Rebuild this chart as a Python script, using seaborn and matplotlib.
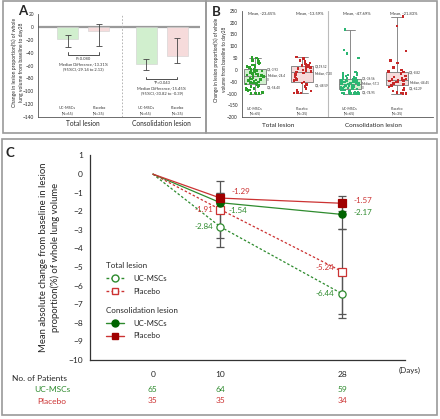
import numpy as np
import pandas as pd
import matplotlib
matplotlib.use("Agg")
import matplotlib.pyplot as plt
from matplotlib.patches import Rectangle
from matplotlib.lines import Line2D
import seaborn as sns

sns.set_style("white")
plt.rcParams['font.family'] = ['Lato', 'DejaVu Sans']

W, H = 440, 419

# ---------------- data ----------------
lesions = ["Total lesion", "Consolidation lesion"]
groups = ["UC-MSCs", "Placebo"]
group_n = ["(N=65)", "(N=35)"]

# panel A: median change with 95% CI
a_median_uc = [-19, -57]
a_median_pl = [-7, -45]
a_lo_uc = [-31.5, -67]
a_hi_uc = [-12, -50]
a_lo_pl = [-30, -56]
a_hi_pl = [5, -17]
a_pvals = ["P=0.080", "*P=0.043"]
a_diff = ["Median Difference,-13.31%", "Median Difference,-15.45%"]
a_ci = ["(95%CI,-29.14 to 2.13)", "(95%CI,-30.82 to -0.39)"]

# panel B: individual patients
b_uc_total = [-100, -100, -100, -98, -95, -92, -88, -85, -82, -80, -78, -75, -72,
              -70, -66, -62, -60, -58, -55, -54, -52, -50, -47, -45, -42, -40, -38,
              -35, -33, -30, -28, -26, -25, -24, -23, -21, -19, -17, -15, -13, -12,
              -10, -8, -6, -5, -4, -3, -1, 2, 5, 8, 10, 12, 15, 18, 20, 24, 28, 32,
              35, 40, 45, 48, 50, 52]
b_pl_total = [-97, -97, -95, -90, -85, -78, -70, -62, -55, -50, -48, -45, -40, -35,
              -28, -20, -12, -8, -7, -3, 0, 3, 6, 10, 12, 15, 18, 20, 22, 25, 30, 35,
              40, 48, 55]
b_uc_cons = [-100, -100, -100, -100, -100, -100, -98, -96, -95, -93, -90, -88, -86,
             -84, -82, -80, -78, -76, -75, -74, -72, -70, -68, -66, -65, -63, -62,
             -60, -59, -58, -57, -56, -55, -54, -52, -50, -49, -48, -46, -45, -44,
             -42, -40, -38, -37, -36, -35, -33, -30, -28, -25, -22, -20, -15, -12,
             -8, 50, 70, 85, 170]
b_pl_cons = [-100, -100, -98, -95, -90, -85, -78, -72, -65, -62, -60, -58, -55, -52,
             -50, -48, -45, -44, -42, -40, -38, -35, -30, -25, -15, -10, -8, -5, 0,
             10, 30, 40, 80, 185, 225]
b_means = ["Mean, -23.45%", "Mean, -13.59%", "Mean, -47.69%", "Mean, -21.83%"]
b_q3 = ["Q3,-3.93", "Q3,19.52", "Q3,-36.56", "Q3,-8.82"]
b_med = ["Median,-24.4\n0", "Median,-7.30", "Median,-57.3\n0", "Median,-44.45"]
b_q1 = ["Q1,-54.40", "Q1,-48.59", "Q1,-74.95", "Q1,-62.29"]

# panel C: mean absolute change (%)
days = [0, 10, 28]
c_total_uc = [0, -2.84, -6.44]
c_total_pl = [0, -1.91, -5.24]
c_cons_uc = [0, -1.54, -2.17]
c_cons_pl = [0, -1.29, -1.57]
c_err_total_uc = [0, 1.08, 1.31]
c_err_total_pl = [0, 1.55, 2.28]
c_err_cons_uc = [0, 0.5, 0.8]
c_err_cons_pl = [0, 0.26, 0.39]
n_uc = [65, 64, 59]
n_pl = [35, 35, 34]

GREEN_FILL, RED_FILL = "#cdf5c8", "#fad6d6"
GREEN, RED = "#2e8b2e", "#cc3333"
DGREEN, DRED = "#006400", "#a00000"


def px(l, t, r, b):
    return [l / W, 1 - b / H, (r - l) / W, (b - t) / H]


fig = plt.figure(figsize=(W / 100, H / 100), dpi=100)

# panel frames
for l, t, r, b in [(3, 1, 206, 133), (206, 1, 437, 133), (2, 139, 437, 415)]:
    fig.patches.append(Rectangle((l / W, 1 - b / H), (r - l) / W, (b - t) / H,
                                 transform=fig.transFigure, fill=False,
                                 edgecolor="#9a9a9a", lw=1.2))

# ---------------- panel A ----------------
axA = fig.add_axes(px(38, 14, 200, 117))
dfA = pd.DataFrame({
    "lesion": lesions * 2,
    "group": [groups[0]] * 2 + [groups[1]] * 2,
    "value": a_median_uc + a_median_pl,
})
sns.barplot(data=dfA, x="lesion", y="value", hue="group", order=lesions,
            hue_order=groups, palette=[GREEN_FILL, RED_FILL], gap=0.33,
            errorbar=None, legend=False, ax=axA, linewidth=0.4,
            edgecolor="#d0d0d0")
los = [a_lo_uc, a_lo_pl]
his = [a_hi_uc, a_hi_pl]
meds = [a_median_uc, a_median_pl]
centers = {}
bar_conts = list(axA.containers)
for gi, cont in enumerate(bar_conts):
    for li, bar in enumerate(cont.patches):
        xc = bar.get_x() + bar.get_width() / 2
        centers[(gi, li)] = xc
        axA.errorbar(xc, meds[gi][li],
                     yerr=[[meds[gi][li] - los[gi][li]], [his[gi][li] - meds[gi][li]]],
                     fmt="none", ecolor="#444444", elinewidth=0.6, capsize=2.5,
                     capthick=0.6)
        axA.text(xc, -130, groups[gi] + "\n" + group_n[gi], ha="center",
                 va="center", fontsize=2.8, color="#333333", linespacing=1.3)
bracket_y = [-43.7, -81.4]
for li in range(2):
    x0, x1 = centers[(0, li)], centers[(1, li)]
    y = bracket_y[li]
    axA.plot([x0, x0, x1, x1], [y + 4, y, y, y + 4], color="#333333", lw=0.6)
    axA.text(li, y - 14, a_pvals[li] + "\n" + a_diff[li] + "\n" + a_ci[li],
             ha="center", va="center", fontsize=2.9, color="#333333",
             linespacing=1.45)
axA.axhline(0, color="#9a9a9a", lw=1.6, zorder=0.5)
axA.axvline(0.5, color="#aaaaaa", lw=0.6, ls=(0, (2, 2)))
axA.set_ylim(-140, 20)
axA.set_xlim(-0.576, 1.487)
axA.set_yticks(np.arange(-140, 21, 20))
axA.tick_params(axis="y", labelsize=3.4, length=2, width=0.5, pad=1)
axA.tick_params(axis="x", labelsize=4.8, length=0, pad=2.5)
axA.set_xlabel("")
axA.set_ylabel("Change in lesion proportion(%) of whole\nlung volume from baseline to day28",
               fontsize=3.6, linespacing=1.5)
axA.yaxis.set_label_coords(-0.085, 0.53)
sns.despine(ax=axA)
for s in ["left", "bottom"]:
    axA.spines[s].set_color("#555555")
    axA.spines[s].set_linewidth(0.6)
fig.text(23 / W, 1 - 11 / H, "A", fontsize=9.5, fontweight="bold", va="center",
         ha="center")

# ---------------- panel B ----------------
axB = fig.add_axes(px(242, 10.7, 433, 117.3))
b_labels = ["UC total", "Placebo total", "UC cons", "Placebo cons"]
b_values = [b_uc_total, b_pl_total, b_uc_cons, b_pl_cons]
dfB = pd.DataFrame({
    "label": np.repeat(b_labels, [len(v) for v in b_values]),
    "value": np.concatenate(b_values),
})
box_pal = dict(zip(b_labels, [GREEN_FILL, RED_FILL, GREEN_FILL, RED_FILL]))
pt_pal = dict(zip(b_labels, ["#2ca02c", "#c62828", "#2bb673", "#c62828"]))
sns.boxplot(data=dfB, x="label", y="value", hue="label", order=b_labels,
            palette=box_pal, width=0.47, whis=(0, 100), showfliers=False,
            linewidth=0.6, linecolor="#777777", legend=False, ax=axB)
np.random.seed(3)
sns.stripplot(data=dfB, x="label", y="value", hue="label", order=b_labels,
              palette=pt_pal, size=1.7, jitter=0.2, legend=False, ax=axB,
              marker="s", linewidth=0)
for i, vals in enumerate(b_values):
    q1, med, q3 = np.percentile(vals, [25, 50, 75])
    axB.text(i + 0.26, q3, b_q3[i], fontsize=2.2, va="center", color="#333333")
    axB.text(i + 0.26, med - 8, b_med[i], fontsize=2.2, va="center",
             color="#333333", linespacing=1.1)
    axB.text(i + 0.26, q1 - 14, b_q1[i], fontsize=2.2, va="center",
             color="#333333")
    axB.text(i + 0.15, 238, b_means[i], fontsize=3, ha="center", va="center",
             color="#333333")
    axB.text(i, -174, groups[i % 2] + "\n" + group_n[i % 2], ha="center",
             va="center", fontsize=2.6, color="#333333", linespacing=1.3)
axB.axvline(1.55, color="#bbbbbb", lw=0.8)
axB.set_ylim(-200, 250)
axB.set_xlim(-0.275, 3.76)
axB.set_yticks(np.arange(-200, 251, 50))
axB.set_xticks([0.5, 2.5])
axB.set_xticklabels(lesions)
axB.tick_params(axis="y", labelsize=3.3, length=2, width=0.5, pad=1)
axB.tick_params(axis="x", labelsize=4.6, length=0, pad=4)
axB.set_xlabel("")
axB.set_ylabel("Change in lesion proportion(%) of whole\nvolume from baseline to day28",
               fontsize=3.4, linespacing=1.9)
axB.yaxis.set_label_coords(-0.078, 0.54)
sns.despine(ax=axB)
for s in ["left", "bottom"]:
    axB.spines[s].set_color("#555555")
    axB.spines[s].set_linewidth(0.6)
fig.text(216 / W, 1 - 12 / H, "B", fontsize=9.5, fontweight="bold", va="center",
         ha="center")

# ---------------- panel C ----------------
axC = fig.add_axes(px(90, 155.5, 405, 360))
series = [
    (c_total_uc, c_err_total_uc, GREEN, "o", "white", GREEN, (0, (2, 1.6))),
    (c_total_pl, c_err_total_pl, RED, "s", "white", RED, (0, (2, 1.6))),
    (c_cons_uc, c_err_cons_uc, GREEN, "o", DGREEN, DGREEN, "-"),
    (c_cons_pl, c_err_cons_pl, RED, "s", DRED, DRED, "-"),
]
for vals, err, col, mk, mfc, mec, ls in series:
    axC.errorbar(days[1:], vals[1:], yerr=err[1:], fmt="none", ecolor="#555555",
                 elinewidth=0.9, capsize=3, capthick=0.9, zorder=2)
for vals, err, col, mk, mfc, mec, ls in series:
    sns.lineplot(x=days, y=vals, color=col, ax=axC, lw=0.9, linestyle=ls,
                 zorder=3)
    axC.plot(days[1:], vals[1:], ls="none", marker=mk, ms=5.2, mfc=mfc,
             mec=mec, mew=0.9, zorder=4)

lab_kw = dict(fontsize=5.8, va="center", textcoords="offset points")
axC.annotate(f"{c_cons_pl[1]:.2f}", (days[1], c_cons_pl[1]), xytext=(8, 4.5),
             color=RED, ha="left", **lab_kw)
axC.annotate(f"{c_total_pl[1]:.2f}", (days[1], c_total_pl[1]), xytext=(-5, 0),
             color=RED, ha="right", **lab_kw)
axC.annotate(f"{c_cons_uc[1]:.2f}", (days[1], c_cons_uc[1]), xytext=(6, -5.5),
             color=GREEN, ha="left", **lab_kw)
axC.annotate(f"{c_total_uc[1]:.2f}", (days[1], c_total_uc[1]), xytext=(-5, 0),
             color=GREEN, ha="right", **lab_kw)
axC.annotate(f"{c_cons_pl[2]:.2f}", (days[2], c_cons_pl[2]), xytext=(8, 2),
             color=RED, ha="left", **lab_kw)
axC.annotate(f"{c_cons_uc[2]:.2f}", (days[2], c_cons_uc[2]), xytext=(8, 1.5),
             color=GREEN, ha="left", **lab_kw)
axC.annotate(f"{c_total_pl[2]:.2f}", (days[2], c_total_pl[2]), xytext=(-6, 3),
             color=RED, ha="right", **lab_kw)
axC.annotate(f"{c_total_uc[2]:.2f}", (days[2], c_total_uc[2]), xytext=(-6, 0),
             color=GREEN, ha="right", **lab_kw)

axC.set_ylim(-10, 1)
axC.set_xlim(-9.3, 37.3)
axC.set_yticks(np.arange(-10, 2, 1))
axC.set_xticks(days)
axC.tick_params(axis="both", labelsize=6, length=3, width=0.8, pad=2,
                color="#333333")
axC.tick_params(axis="x", pad=5)
sns.despine(ax=axC)
for s in ["left", "bottom"]:
    axC.spines[s].set_color("#333333")
    axC.spines[s].set_linewidth(0.9)
axC.set_ylabel("Mean absolute change from baseline in lesion\nproportion(%) of whole lung volume",
               fontsize=6.8, linespacing=1.4)
axC.yaxis.set_label_coords(-0.095, 0.5)
axC.text(0.98, -0.05, "(Days)", transform=axC.transAxes, fontsize=5.8,
         ha="left", va="center")

leg_kw = dict(frameon=False, fontsize=5.6, title_fontsize=5.8, alignment="left",
              handlelength=2.4, labelspacing=0.75, handletextpad=1.2,
              borderpad=0, borderaxespad=0)
h_total = [Line2D([], [], color=GREEN, ls=(0, (2, 1.6)), lw=1, marker="o",
                  mfc="white", mec=GREEN, ms=5),
           Line2D([], [], color=RED, ls=(0, (2, 1.6)), lw=1, marker="s",
                  mfc="white", mec=RED, ms=5)]
h_cons = [Line2D([], [], color=GREEN, lw=1, marker="o", mfc=DGREEN, mec=DGREEN,
                 ms=5),
          Line2D([], [], color=RED, lw=1, marker="s", mfc=DRED, mec=DRED, ms=5)]
leg1 = axC.legend(h_total, groups, title="Total lesion", loc="upper left",
                  bbox_to_anchor=(0.05, 0.48), **leg_kw)
axC.add_artist(leg1)
axC.legend(h_cons, groups, title="Consolidation lesion", loc="upper left",
           bbox_to_anchor=(0.05, 0.26), **leg_kw)

# number at risk table
fig.text(12 / W, 1 - 378 / H, "No. of Patients", fontsize=6, va="center")
fig.text(52 / W, 1 - 389 / H, groups[0], fontsize=6, va="center", ha="center",
         color=GREEN)
fig.text(52 / W, 1 - 401 / H, groups[1], fontsize=6, va="center", ha="center",
         color=RED)
trans = axC.get_xaxis_transform()
for d, nu, npb in zip(days, n_uc, n_pl):
    axC.text(d, -0.142, str(nu), transform=trans, fontsize=6, ha="center",
             va="center", color=GREEN, clip_on=False)
    axC.text(d, -0.2, str(npb), transform=trans, fontsize=6, ha="center",
             va="center", color=RED, clip_on=False)

fig.text(10 / W, 1 - 153 / H, "C", fontsize=9.5, fontweight="bold", va="center",
         ha="center")

fig.savefig("out.png", dpi=100)
